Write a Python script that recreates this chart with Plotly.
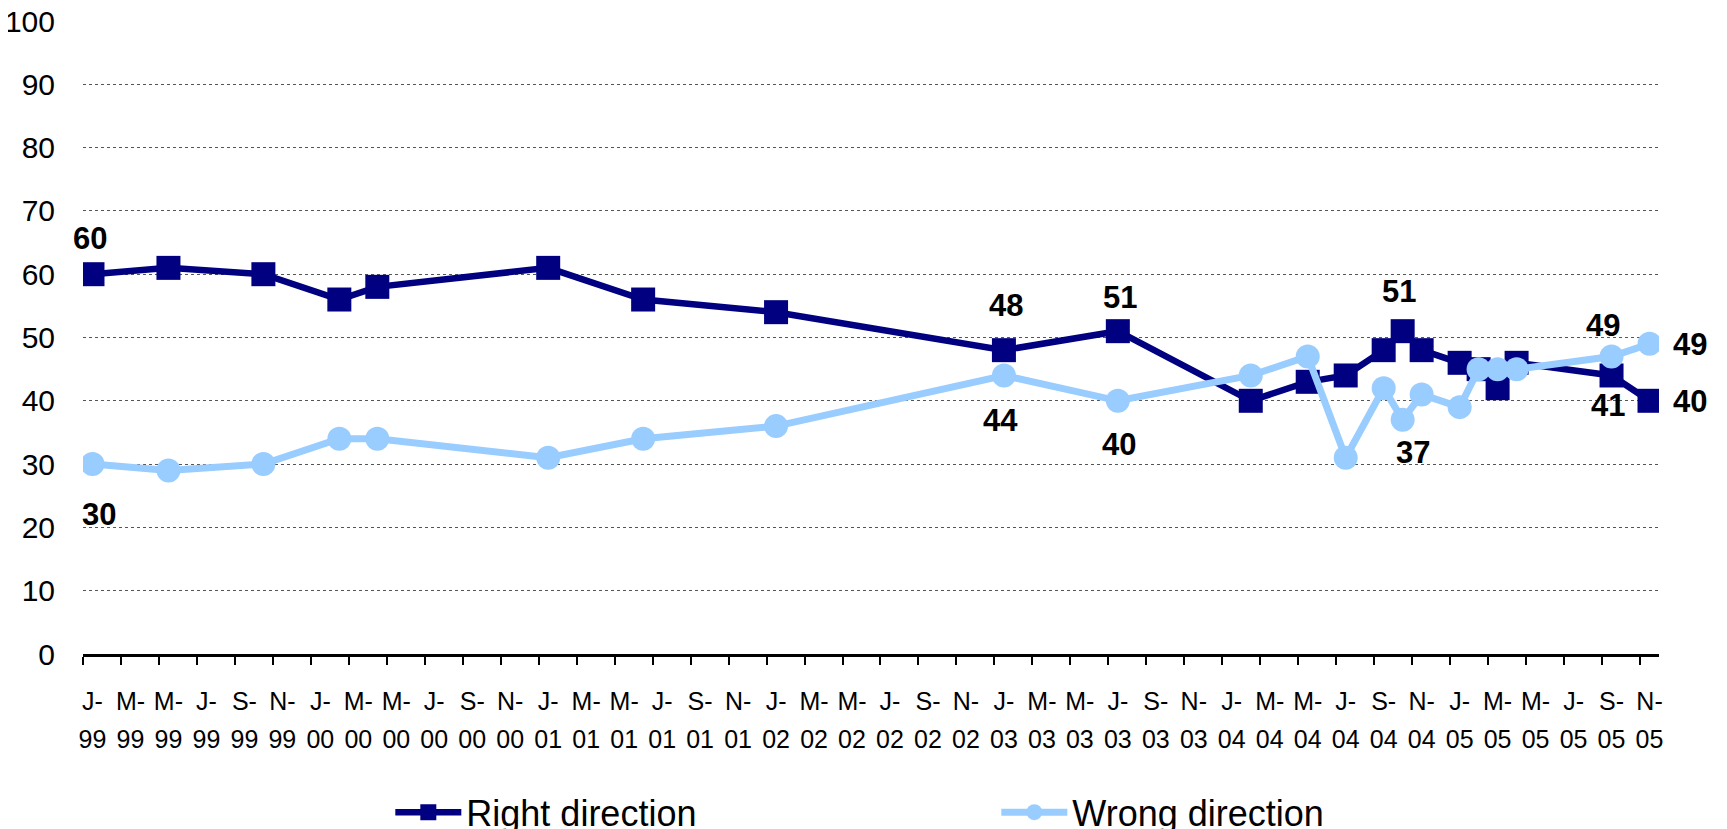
import plotly.graph_objects as go

# survey dates and results
survey_dates = ["1999-01", "1999-05", "1999-10", "2000-02", "2000-04", "2001-01",
                "2001-06", "2002-01", "2003-01", "2003-07", "2004-02", "2004-05",
                "2004-07", "2004-09", "2004-10", "2004-11", "2005-01", "2005-02",
                "2005-03", "2005-04", "2005-09", "2005-11"]
right_direction = [60, 61, 60, 56, 58, 61, 56, 54, 48, 51, 40, 43,
                   44, 48, 51, 48, 46, 45, 42, 46, 44, 40]
wrong_direction = [30, 29, 30, 34, 34, 31, 34, 36, 44, 40, 44, 47,
                   31, 42, 37, 41, 39, 45, 45, 45, 47, 49]

# data labels shown on the chart: (series, date, text)
point_labels = [
    ("right", "1999-01", "60"), ("wrong", "1999-01", "30"),
    ("right", "2003-01", "48"), ("wrong", "2003-01", "44"),
    ("right", "2003-07", "51"), ("wrong", "2003-07", "40"),
    ("right", "2004-10", "51"), ("wrong", "2004-10", "37"),
    ("wrong", "2005-09", "49"), ("right", "2005-09", "41"),
    ("wrong", "2005-11", "49"), ("right", "2005-11", "40"),
]

month_letters = ["J-", "M-", "M-", "J-", "S-", "N-"]
years = ["99", "00", "01", "02", "03", "04", "05"]

NAVY = "#000080"
LIGHT = "#99CCFF"
FONT = "Liberation Sans, Arial, sans-serif"


def month_index(d):
    y, m = d.split("-")
    return (int(y) - 1999) * 12 + int(m) - 1


x = [month_index(d) for d in survey_dates]
tickvals = [i * 2 for i in range(len(years) * 6)]
letter_text = [month_letters[i % 6] for i in range(len(tickvals))]
year_text = [years[i // 6] for i in range(len(tickvals))]

fig = go.Figure()
fig.add_trace(go.Scatter(x=x, y=right_direction, name="Right direction", mode="lines+markers",
                         line=dict(color=NAVY, width=6.5),
                         marker=dict(symbol="square", size=24, color=NAVY)))
fig.add_trace(go.Scatter(x=x, y=wrong_direction, name="Wrong direction", mode="lines+markers",
                         line=dict(color=LIGHT, width=7),
                         marker=dict(symbol="circle", size=24, color=LIGHT)))
# empty trace so the year label axis exists
fig.add_trace(go.Scatter(x=[], y=[], xaxis="x2", showlegend=False, hoverinfo="skip"))

# label offsets in px (dx, dy up)
label_shift = {
    ("right", "1999-01"): (-2, 36), ("wrong", "1999-01"): (7, -50),
    ("right", "2003-01"): (2, 45), ("wrong", "2003-01"): (-3, -45),
    ("right", "2003-07"): (2, 34), ("wrong", "2003-07"): (1, -44),
    ("right", "2004-10"): (-4, 40), ("wrong", "2004-10"): (10, -33),
    ("wrong", "2005-09"): (-9, 31), ("right", "2005-09"): (-4, -30),
    ("wrong", "2005-11"): (40, -1), ("right", "2005-11"): (40, -1),
}
for series, d, txt in point_labels:
    vals = right_direction if series == "right" else wrong_direction
    i = survey_dates.index(d)
    dx, dy = label_shift[(series, d)]
    fig.add_annotation(x=x[i], y=vals[i], text="<b>" + txt + "</b>", showarrow=False,
                       xshift=dx, yshift=dy, font=dict(family=FONT, size=31, color="black"))

# page body adds an 8px offset, so the figure is 8px smaller than the window
fig.update_layout(
    width=1719, height=821,
    margin=dict(l=75, r=68, t=13, b=175, autoexpand=False),
    plot_bgcolor="white", paper_bgcolor="white",
    font=dict(family=FONT, color="black"),
    showlegend=True,
    legend=dict(orientation="h", x=0.195, xanchor="left", y=-0.25, yanchor="middle",
                font=dict(family=FONT, size=36), itemwidth=66, entrywidth=525,
                bgcolor="rgba(0,0,0,0)"),
    xaxis=dict(range=[-0.5, 82.5], showgrid=False, zeroline=False,
               showline=True, linecolor="black", linewidth=2.5,
               tickvals=tickvals, ticktext=letter_text,
               ticks="outside", ticklen=23, tickcolor="rgba(0,0,0,0)",
               tickfont=dict(family=FONT, size=25),
               minor=dict(tickvals=[v - 0.5 for v in tickvals], ticks="outside",
                          ticklen=8, tickwidth=2, tickcolor="black", showgrid=False)),
    xaxis2=dict(overlaying="x", matches="x", anchor="y", side="bottom",
                showgrid=False, zeroline=False, showline=False,
                tickvals=tickvals, ticktext=year_text,
                ticks="outside", ticklen=63, tickcolor="rgba(0,0,0,0)",
                tickfont=dict(family=FONT, size=25)),
    yaxis=dict(range=[0, 100], tickvals=list(range(0, 101, 10)),
               showgrid=True, gridcolor="#555555", gridwidth=1, griddash="dot",
               zeroline=False, showline=False, ticklabeloverflow="allow",
               ticks="outside", ticklen=21, tickcolor="rgba(0,0,0,0)",
               tickfont=dict(family=FONT, size=30)),
)

fig.write_html("out.html")
